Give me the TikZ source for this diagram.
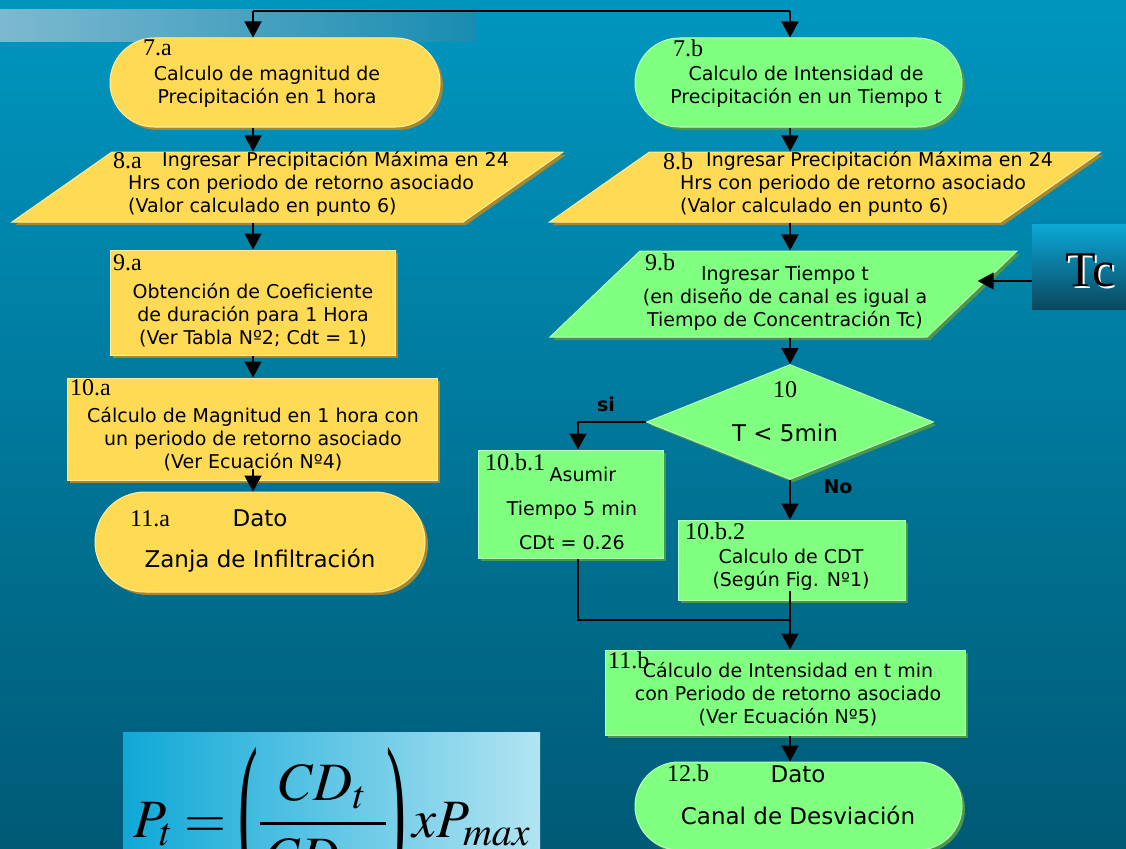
\documentclass[tikz,border=0pt]{standalone}
\usepackage{fix-cm}
\usepackage{mathptmx}
\usepackage{fontspec}
\setmainfont{DejaVu Sans}
\newfontfamily\labfont{Liberation Serif}
\usepackage{tikz}
\usetikzlibrary{arrows.meta,shapes.geometric,shapes.misc,shadows,positioning}
\usepackage{xcolor}
\definecolor{bgtop}{RGB}{0,150,192}
\definecolor{bgbot}{RGB}{0,90,118}
\definecolor{bandl}{RGB}{125,185,208}
\definecolor{bandr}{RGB}{25,140,178}
\definecolor{dfyellow}{RGB}{255,218,85}
\definecolor{dfyellowdk}{RGB}{165,135,45}
\definecolor{dfyellowlt}{RGB}{255,238,160}
\definecolor{dfgreen}{RGB}{128,255,128}
\definecolor{dfgreendk}{RGB}{75,150,75}
\definecolor{dfgreenlt}{RGB}{185,255,185}
\definecolor{tctop}{RGB}{12,168,215}
\definecolor{tcbot}{RGB}{10,72,95}
\definecolor{fmleft}{RGB}{15,168,215}
\definecolor{fmright}{RGB}{178,228,242}
\newcommand{\tallparl}{\mathopen{\raisebox{-26pt}{\scalebox{1.1}[3.1]{\labfont(}}}}
\newcommand{\tallparr}{\mathclose{\raisebox{-26pt}{\scalebox{1.1}[3.1]{\labfont)}}}}
\tikzstyle{arrow} = [line width=1.5pt,-{Triangle[width=17pt,length=16pt]}]
\tikzstyle{line} = [line width=1.5pt]
\tikzstyle{ybox} = [fill=dfyellow,draw=dfyellowlt,line width=1pt,drop shadow={shadow xshift=3pt,shadow yshift=-3pt,fill=dfyellowdk,opacity=1}]
\tikzstyle{gbox} = [fill=dfgreen,draw=dfgreenlt,line width=1pt,drop shadow={shadow xshift=3pt,shadow yshift=-3pt,fill=dfgreendk,opacity=1}]
\tikzstyle{term} = [rounded rectangle,inner sep=0pt]
\tikzstyle{proc} = [rectangle,inner sep=0pt]
\tikzstyle{io} = [trapezium,trapezium stretches body,inner xsep=0pt]
\tikzstyle{txt} = [font=\fontsize{19}{23}\selectfont,align=center,inner sep=0pt]
\tikzstyle{bigtxt} = [font=\fontsize{23}{41}\selectfont,align=center,inner sep=0pt]
\tikzstyle{lab} = [font=\labfont\fontsize{24}{24}\selectfont,anchor=west,inner sep=0pt]
\tikzstyle{answer} = [font=\bfseries\fontsize{19}{19}\selectfont,inner sep=0pt]

\begin{document}
\begin{tikzpicture}[x=1pt,y=-1pt]
\useasboundingbox (0,0) rectangle (1126,848);
\clip (0,0) rectangle (1126,848);
% background
\shade[top color=bgtop,bottom color=bgbot] (0,0) rectangle (1126,848);
\shade[left color=bandl,right color=bandr] (0,10) rectangle (475,42);

% columns
\coordinate (cola) at (253,0);
\coordinate (colb) at (790,0);
\coordinate (colc) at (578,0);
\coordinate (splitl) at (253,11);
\coordinate (splitr) at (790,11);
\coordinate (merge) at (790,620);

% left branch (yellow)
\node[term,ybox,minimum width=330pt,minimum height=89pt] (n7a) at (275,82.5) {};
\node[io,ybox,trapezium left angle=35,trapezium right angle=145,inner ysep=35pt,minimum width=551pt] (n8a) at (287.5,187) {};
\node[proc,ybox,minimum width=285pt,minimum height=105pt] (n9a) at (252.5,302.5) {};
\node[proc,ybox,minimum width=370pt,minimum height=102pt] (n10a) at (252,429) {};
\node[term,ybox,minimum width=330pt,minimum height=100pt] (n11a) at (260,542) {};

\node[txt] (t7a) at (267,87) {Calculo de magnitud de\\Precipitación en 1 hora};
\node[txt,align=left,anchor=west] (t8a) at (128,184) {\hspace*{34pt}Ingresar Precipitación Máxima en 24\\Hrs con periodo de retorno asociado\\(Valor calculado en punto 6)};
\node[txt] (t9a) at (253,315) {Obtención de Coeficiente\\de duración para 1 Hora\\(Ver Tabla Nº2; Cdt = 1)};
\node[txt] (t10a) at (253,439) {Cálculo de Magnitud en 1 hora con\\un periodo de retorno asociado\\(Ver Ecuación Nº4)};
\node[bigtxt] (t11a) at (260,541.5) {Dato\\Zanja de Infiltración};

\node[lab] (l7a) at (143,48) {7.a};
\node[lab] (l8a) at (113,161) {8.a};
\node[lab] (l9a) at (113,263) {9.a};
\node[lab] (l10a) at (70,388) {10.a};
\node[lab] (l11a) at (130,519) {11.a};

% right branch (green)
\node[term,gbox,minimum width=327pt,minimum height=89pt] (n7b) at (798.5,82.5) {};
\node[io,ybox,trapezium left angle=35,trapezium right angle=145,inner ysep=35pt,minimum width=551pt] (n8b) at (825,187) {};
\node[io,gbox,trapezium left angle=43.7,trapezium right angle=136.3,inner ysep=43pt,minimum width=467pt] (n9b) at (783.5,294) {};
\node[diamond,gbox,inner sep=0pt,aspect=2.5,minimum width=287pt,minimum height=115pt] (d10) at (790,422) {};
\node[proc,gbox,minimum width=185pt,minimum height=108pt] (n101) at (570.5,504) {};
\node[proc,gbox,minimum width=227pt,minimum height=80pt] (n102) at (791.5,560) {};
\node[proc,gbox,minimum width=360pt,minimum height=85pt] (n11b) at (785,692.5) {};
\node[term,gbox,minimum width=327pt,minimum height=88pt] (n12b) at (798.5,806) {};

\node[txt] (t7b) at (806,87) {Calculo de Intensidad de\\Precipitación en un Tiempo t};
\node[txt,align=left,anchor=west] (t8b) at (680,184) {\hspace*{26pt}Ingresar Precipitación Máxima en 24\\Hrs con periodo de retorno asociado\\(Valor calculado en punto 6)};
\node[txt] (t9b) at (785,298) {Ingresar Tiempo t\\(en diseño de canal es igual a\\Tiempo de Concentración Tc)};
\node[font=\fontsize{23}{23}\selectfont,inner sep=0pt] (t10) at (785,433) {T < 5min};
\node[txt,font=\fontsize{19}{34}\selectfont] (t101) at (572,508) {\hspace*{22pt}Asumir\\Tiempo 5 min\\CDt = 0.26};
\node[txt] (t102) at (791,570) {Calculo de CDT\\(Según Fig. Nº1)};
\node[txt] (t11b) at (788,694) {Cálculo de Intensidad en t min\\con Periodo de retorno asociado\\(Ver Ecuación Nº5)};
\node[bigtxt,font=\fontsize{23}{42}\selectfont] (t12b) at (798,795) {Dato\\Canal de Desviación};

\node[lab] (l7b) at (673,48) {7.b};
\node[lab] (l8b) at (663,161) {8.b};
\node[lab] (l9b) at (645,262) {9.b};
\node[lab] (l10) at (773,390) {10};
\node[lab] (l101) at (485,462) {10.b.1};
\node[lab] (l102) at (685,531) {10.b.2};
\node[lab] (l11b) at (608,660) {11.b};
\node[lab] (l12b) at (667,773) {12.b};

\node[answer] (si) at (606,404) {si};
\node[answer] (no) at (838,487) {No};

% Tc input
\node[rectangle,top color=tctop,bottom color=tcbot,minimum width=94pt,minimum height=85pt,inner sep=0pt] (tc) at (1079,266.5) {};
\node[font=\labfont\fontsize{50}{50}\selectfont,white,inner sep=0pt] (tcw) at (1092,272) {Tc};
\node[font=\labfont\fontsize{50}{50}\selectfont,inner sep=0pt] (tct) at (1090,270) {Tc};

% connectors
\draw[line] (splitl) -- (splitr);
\draw[arrow] (splitl) -- (splitl |- n7a.north);
\draw[arrow] (splitr) -- (splitr |- n7b.north);
\draw[arrow] (n7a.south -| cola) -- (n8a.north -| cola);
\draw[arrow] (n8a.south -| cola) -- (n9a.north -| cola);
\draw[arrow] (n9a.south -| cola) -- (n10a.north -| cola);
\draw[arrow] (n10a.south -| cola) ++(0,-12) -- (n11a.north -| cola);
\draw[arrow] (n7b.south -| colb) -- (n8b.north -| colb);
\draw[arrow] (n8b.south -| colb) -- (n9b.north -| colb);
\draw[arrow] (n9b.south -| colb) -- (d10.north);
\draw[arrow] (d10.west) -| (n101.north -| colc);
\draw[arrow] (d10.south) -- (n102.north -| colb);
\draw[line] (n101.south -| colc) |- (merge);
\draw[arrow] (n102.south -| colb) ++(0,-10) -- (n11b.north -| colb);
\draw[arrow] (n11b.south -| colb) -- (n12b.north -| colb);
\draw[arrow] ([yshift=-14.5pt]tc.west) -- ([yshift=13pt,xshift=5pt]n9b.east);

% formula
\shade[left color=fmleft,right color=fmright] (123,732) rectangle (540,860);
\node[anchor=base west,inner sep=0pt,font=\fontsize{54}{56}\selectfont] (formula) at (133,837) {$P_t=\tallparl\displaystyle\frac{\mkern2mu CD_t\mkern2mu}{\mkern2mu CD_{60}\mkern2mu}\tallparr\mkern2mu xP_{max}$};
\end{tikzpicture}
\end{document}
